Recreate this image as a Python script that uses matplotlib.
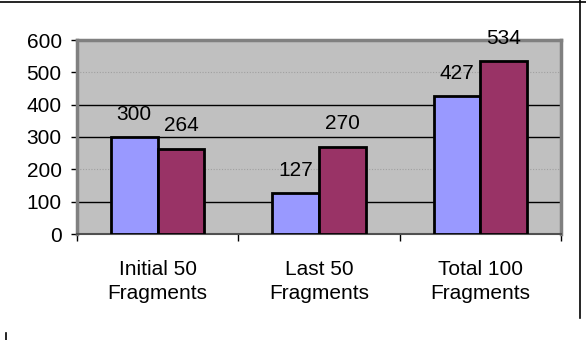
import matplotlib
matplotlib.use("Agg")
import matplotlib.pyplot as plt
import numpy as np

categories = ["Initial 50\nFragments", "Last 50\nFragments", "Total 100\nFragments"]
series_a = [300, 127, 427]
series_b = [264, 270, 534]
yticks = [0, 100, 200, 300, 400, 500, 600]

plt.rcParams['font.family'] = ['Liberation Sans', 'DejaVu Sans']

W, H = 586, 340
fig = plt.figure(figsize=(W/100, H/100), dpi=100)
ax = fig.add_axes([77/W, 1-234/H, (561-77)/W, (234-40)/H])
ax.set_facecolor('#C0C0C0')

x = np.arange(len(categories))
bw = 0.29
ba = ax.bar(x - bw/2, series_a, bw, color='#9999FF', edgecolor='black', linewidth=2.0, zorder=3)
bb = ax.bar(x + bw/2, series_b, bw, color='#993366', edgecolor='black', linewidth=2.0, zorder=3)

for bars, vals in ((ba, series_a), (bb, series_b)):
    for r, v in zip(bars, vals):
        ax.annotate(str(v), (r.get_x() + r.get_width()/2, v), xytext=(0, 16.5),
                    textcoords='offset points', ha='center', va='center',
                    fontsize=15, zorder=5, annotation_clip=False)

ax.set_xlim(-0.5, len(categories) - 0.5)
ax.set_ylim(0, 600)
ax.set_yticks(yticks)
ax.set_yticklabels([str(t) for t in yticks], fontsize=15)
ax.tick_params(axis='y', length=4, width=1, pad=7, color='black')

ax.set_xticks(x)
ax.set_xticklabels(categories, fontsize=15, linespacing=1.31)
ax.tick_params(axis='x', which='major', length=0, pad=19)
ax.set_xticks(np.arange(len(categories) + 1) - 0.5, minor=True)
ax.tick_params(axis='x', which='minor', length=5, width=1, color='black')

for t in yticks[1:-1]:
    if t in (200, 500):
        ax.axhline(t, color='#A0A0A0', lw=0.8, ls=(0, (1, 1.5)), zorder=1)
    else:
        ax.axhline(t, color='black', lw=1.0, zorder=1)

for s in ('top', 'left', 'right'):
    ax.spines[s].set_color('#808080')
    ax.spines[s].set_linewidth(2.5)
ax.spines['bottom'].set_color('#505050')
ax.spines['bottom'].set_linewidth(1.5)

# outer frame fragments
fig.add_artist(plt.Line2D([0, 1], [1-1.5/H, 1-1.5/H], color='black', lw=1.2))
fig.add_artist(plt.Line2D([580/W, 580/W], [1, 1-318/H], color='black', lw=1.2))
fig.add_artist(plt.Line2D([6/W, 6/W], [1-333/H, 0], color='black', lw=1.2))

fig.savefig('out.png', dpi=100)
